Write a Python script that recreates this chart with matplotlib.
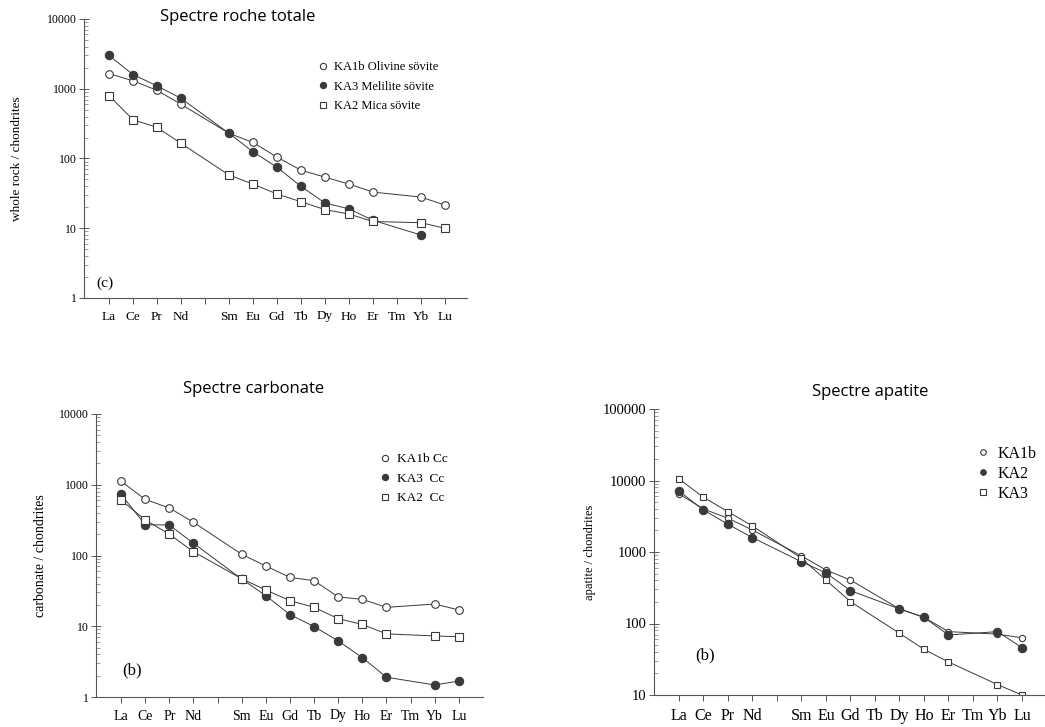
import numpy as np
import matplotlib
matplotlib.use("Agg")
import matplotlib.pyplot as plt
from matplotlib.lines import Line2D
from matplotlib.ticker import LogLocator, NullFormatter, FixedLocator

nan = np.nan

# rare earth elements, Pm has a tick but no label and no data
elements = ['La', 'Ce', 'Pr', 'Nd', 'Pm', 'Sm', 'Eu', 'Gd', 'Tb', 'Dy', 'Ho', 'Er', 'Tm', 'Yb', 'Lu']
tick_labels = ['La', 'Ce', 'Pr', 'Nd', '', 'Sm', 'Eu', 'Gd', 'Tb', 'Dy', 'Ho', 'Er', 'Tm', 'Yb', 'Lu']

# whole rock / chondrites
ka1b_wr = [1650, 1300, 950, 600, nan, 230, 170, 105, 68, 54, 43, 33, nan, 28, 21.5]
ka3_wr = [3000, 1600, 1100, 730, nan, 230, 125, 75, 40, 23, 19, 13, nan, 8, nan]
ka2_wr = [800, 360, 280, 165, nan, 58, 43, 31, 24, 18.5, 16, 12.5, nan, 12, 10]
labels_wr = ['KA1b Olivine sövite', 'KA3 Melilite sövite', 'KA2 Mica sövite']

# carbonate / chondrites
ka1b_cc = [1120, 620, 470, 295, nan, 104, 71, 49, 44, 26, 24, 18.5, nan, 20.6, 17]
ka3_cc = [730, 272, 270, 149, nan, 46.5, 27, 14.6, 9.9, 6.2, 3.6, 1.9, nan, 1.48, 1.68]
ka2_cc = [608, 318, 200, 113, nan, 47, 32.5, 23, 18.5, 12.8, 10.6, 7.8, nan, 7.3, 7.1]
labels_cc = ['KA1b Cc', 'KA3  Cc', 'KA2  Cc']

# apatite / chondrites
ka1b_ap = [6500, 4000, 2960, 2030, nan, 880, 560, 405, nan, 160, 122, 77, nan, 71, 63]
ka2_ap = [7130, 3870, 2440, 1590, nan, 730, 510, 288, nan, 160, 122, 69, nan, 77, 46]
ka3_ap = [10500, 5820, 3660, 2310, nan, 817, 405, 202, nan, 73, 43.5, 29, nan, 14, 10]
labels_ap = ['KA1b', 'KA2', 'KA3']

SERIF = ['Liberation Serif', 'DejaVu Serif']
SANS = ['Open Sans', 'DejaVu Sans']
LINE = '#3a3a3a'

W, H = 1045, 727
fig = plt.figure(figsize=(W / 100, H / 100), dpi=100)


def px_axes(left, right, top, bottom):
    return fig.add_axes([left / W, 1 - bottom / H, (right - left) / W, (bottom - top) / H])


def draw_series(ax, values, marker, filled, ms):
    x = np.arange(len(elements))
    y = np.array(values, dtype=float)
    m = ~np.isnan(y)
    ax.plot(x[m], y[m], color=LINE, lw=0.7, marker=marker, ms=ms,
            markerfacecolor=LINE if filled else 'white', markeredgecolor=LINE,
            markeredgewidth=0.8)


def style_axes(ax, ylim, xlim, ytick_fs, xtick_fs):
    ax.set_yscale('log')
    ax.set_ylim(*ylim)
    ax.set_xlim(*xlim)
    for s in ['top', 'right']:
        ax.spines[s].set_visible(False)
    for s in ['left', 'bottom']:
        ax.spines[s].set_color('#555555')
        ax.spines[s].set_linewidth(0.8)
    ax.yaxis.set_minor_locator(LogLocator(base=10, subs=np.arange(2, 10)))
    ax.yaxis.set_minor_formatter(NullFormatter())
    ticks = [10 ** k for k in range(int(np.log10(ylim[0])), int(np.log10(ylim[1])) + 1)]
    ax.yaxis.set_major_locator(FixedLocator(ticks))
    ax.set_yticklabels([str(t) for t in ticks], fontfamily=SERIF, fontsize=ytick_fs)
    ax.tick_params(axis='y', which='major', direction='inout', length=7, width=0.7,
                   color='#555555', pad=2)
    ax.tick_params(axis='y', which='minor', direction='in', length=3, width=0.5,
                   color='#777777')
    ax.set_xticks(np.arange(len(elements)))
    ax.set_xticklabels(tick_labels, fontfamily=SERIF, fontsize=xtick_fs)
    ax.tick_params(axis='x', direction='out', length=4, width=0.7, color='#555555', pad=5)
    ax.set_facecolor('none')


def add_legend(ax, labels, markers, fills, ms, x, y, fs, spacing):
    handles = [Line2D([], [], ls='none', marker=mk, ms=ms,
                      markerfacecolor=LINE if f else 'white', markeredgecolor=LINE,
                      markeredgewidth=0.8) for mk, f in zip(markers, fills)]
    ax.legend(handles, labels, loc='upper left', bbox_to_anchor=(x / W, 1 - y / H),
              bbox_transform=fig.transFigure, frameon=False, handlelength=0.8,
              handletextpad=0.5, borderpad=0, borderaxespad=0, labelspacing=spacing,
              prop={'family': SERIF, 'size': fs})


# ---- whole rock (c) ----
ax1 = px_axes(84, 467, 19, 298)
draw_series(ax1, ka1b_wr, 'o', False, 5.5)
draw_series(ax1, ka3_wr, 'o', True, 6)
draw_series(ax1, ka2_wr, 's', False, 5.5)
style_axes(ax1, (1, 10000), (-1.04, 14.92), 8.5, 9.5)
ax1.set_ylabel('whole rock / chondrites', fontfamily=SERIF, fontsize=9.5, labelpad=17)
ax1.text(105 / W, 1 - 283 / H, '(c)', transform=fig.transFigure, fontfamily=SERIF,
         fontsize=11, ha='center', va='center')
add_legend(ax1, labels_wr, ['o', 'o', 's'], [False, True, False], 4.5, 318, 61, 9, 0.6)
fig.text(238 / W, 1 - 17 / H, 'Spectre roche totale', fontfamily=SANS, fontsize=12,
         ha='center', va='center')

# ---- carbonate (b) ----
ax2 = px_axes(96, 483, 414, 697)
draw_series(ax2, ka1b_cc, 'o', False, 5.5)
draw_series(ax2, ka3_cc, 'o', True, 6)
draw_series(ax2, ka2_cc, 's', False, 5.5)
style_axes(ax2, (1, 10000), (-1.04, 15.0), 8.5, 10)
ax2.set_ylabel('carbonate / chondrites', fontfamily=SERIF, fontsize=10, labelpad=8)
ax2.text(132 / W, 1 - 670 / H, '(b)', transform=fig.transFigure, fontfamily=SERIF,
         fontsize=12, ha='center', va='center')
add_legend(ax2, labels_cc, ['o', 'o', 's'], [False, True, False], 4.5, 380, 453, 9.5, 0.55)
fig.text(254 / W, 1 - 389 / H, 'Spectre carbonate', fontfamily=SANS, fontsize=12,
         ha='center', va='center')

# ---- apatite (b) ----
ax3 = px_axes(654, 1045, 409, 695)
draw_series(ax3, ka1b_ap, 'o', False, 4.5)
draw_series(ax3, ka2_ap, 'o', True, 6)
draw_series(ax3, ka3_ap, 's', False, 4.5)
style_axes(ax3, (10, 100000), (-1.02, 14.94), 10.5, 11.5)
ax3.set_ylabel('apatite / chondrites', fontfamily=SERIF, fontsize=9, labelpad=5)
ax3.text(705 / W, 1 - 655 / H, '(b)', transform=fig.transFigure, fontfamily=SERIF,
         fontsize=12, ha='center', va='center')
add_legend(ax3, labels_ap, ['o', 'o', 's'], [False, True, False], 4, 977, 446, 11.5, 0.25)
fig.text(870 / W, 1 - 392 / H, 'Spectre apatite', fontfamily=SANS, fontsize=12,
         ha='center', va='center')

fig.savefig('out.png', dpi=100)
